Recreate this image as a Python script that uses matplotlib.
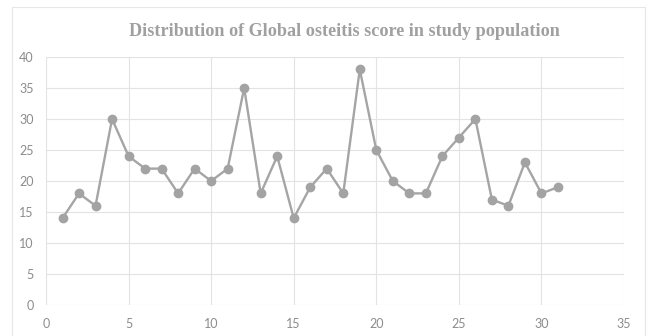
import matplotlib
matplotlib.use("Agg")
import matplotlib.pyplot as plt
from matplotlib.patches import Rectangle

x_vals = list(range(1, 32))
scores = [14, 18, 16, 30, 24, 22, 22, 18, 22, 20, 22, 35, 18, 24, 14, 19,
          22, 18, 38, 25, 20, 18, 18, 24, 27, 30, 17, 16, 23, 18, 19]
x_ticks = [0, 5, 10, 15, 20, 25, 30, 35]
y_ticks = [0, 5, 10, 15, 20, 25, 30, 35, 40]
title = "Distribution of Global osteitis score in study population"

W, H = 649, 336
fig = plt.figure(figsize=(W / 100, H / 100), dpi=100)
fig.patch.set_facecolor("white")

# outer chart border
fig.add_artist(Rectangle((12 / W, -0.1), (645 - 12) / W, 1.1 - 7 / H,
                         transform=fig.transFigure, fill=False,
                         edgecolor="#e6e6e6", linewidth=0.8))

ax = fig.add_axes([46 / W, 1 - 305 / H, (624 - 46) / W, (305 - 57) / H])
ax.plot(x_vals, scores, color="#a5a5a5", linewidth=1.7, marker="o",
        markersize=6, markerfacecolor="#a3a3a3", markeredgecolor="#a3a3a3",
        zorder=3)
ax.set_xlim(0, 35)
ax.set_ylim(0, 40)
ax.set_xticks(x_ticks)
ax.set_yticks(y_ticks)
ax.grid(True, color="#e3e3e3", linewidth=0.8)
ax.set_axisbelow(True)
for s in ax.spines.values():
    s.set_visible(False)
ax.tick_params(length=0, colors="#8c8c8c", labelsize=9)
ax.tick_params(axis="x", pad=9)
ax.tick_params(axis="y", pad=9)
for lab in ax.get_xticklabels() + ax.get_yticklabels():
    lab.set_fontfamily("Lato")

fig.text(344 / W, 1 - 32 / H, title, ha="center", va="center",
         fontfamily="Liberation Serif", fontweight="bold", fontsize=13.1,
         color="#a0a0a0")

fig.savefig("out.png", dpi=100)
